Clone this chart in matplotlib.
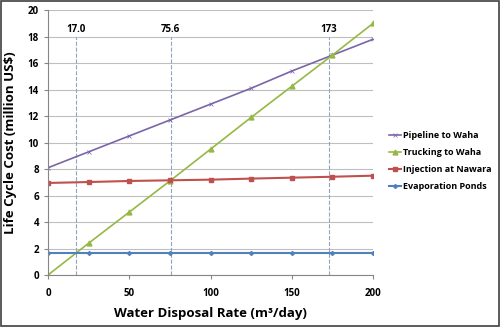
import numpy as np
import matplotlib.pyplot as plt

rate = [0, 25, 50, 75, 100, 125, 150, 175, 200]
pipeline = [8.1, 9.3, 10.5, 11.7, 12.9, 14.1, 15.4, 16.6, 17.8]
trucking = [0.0, 2.4, 4.75, 7.1, 9.5, 11.9, 14.25, 16.6, 19.0]
injection = [6.95, 7.02, 7.1, 7.15, 7.2, 7.28, 7.35, 7.42, 7.5]
evaporation = [1.65] * 9
crossings = [17.0, 75.6, 173]
crossing_labels = ['17.0', '75.6', '173']

plt.rcParams['font.family'] = ['Open Sans', 'DejaVu Sans']

fig = plt.figure(figsize=(5, 3.27), dpi=100)
ax = fig.add_axes([0.096, 0.159, 0.65, 0.81])

for x, lab in zip(crossings, crossing_labels):
    ax.plot([x, x], [0, 18], ls='--', color='#8ea4c0', lw=0.8, zorder=1)
    ax.text(x, 18.15, lab, ha='center', va='bottom', fontsize=7, fontweight='bold')

ax.plot(rate, pipeline, color='#7a65a8', marker='x', ms=2.5, mew=0.5, lw=1.2, label='Pipeline to Waha')
ax.plot(rate, trucking, color='#96b844', marker='^', ms=3.5, lw=1.2, label='Trucking to Waha')
ax.plot(rate, injection, color='#c0504d', marker='s', ms=3.5, lw=1.5, label='Injection at Nawara')
ax.plot(rate, evaporation, color='#4f81bd', marker='D', ms=2, lw=1.5, label='Evaporation Ponds')

ax.set_xlim(0, 200)
ax.set_ylim(0, 20)
ax.set_xticks([0, 50, 100, 150, 200])
ax.set_yticks(np.arange(0, 21, 2))
ax.yaxis.grid(True, color='#bfbfbf', lw=0.8)
ax.set_axisbelow(True)
for s in ['top', 'right']:
    ax.spines[s].set_visible(False)
ax.spines['left'].set_color('#868686')
ax.spines['bottom'].set_color('#868686')
ax.tick_params(axis='both', labelsize=7, length=3, color='#868686')
ax.tick_params(axis='x', pad=6)
for t in ax.get_xticklabels() + ax.get_yticklabels():
    t.set_fontweight('bold')
ax.set_xlabel('Water Disposal Rate (m³/day)', fontsize=9.5, fontweight='bold', labelpad=6)
ax.set_ylabel('Life Cycle Cost (million US$)', fontsize=9.5, fontweight='bold', labelpad=8)

ax.legend(loc='center left', bbox_to_anchor=(1.03, 0.43), frameon=False,
          handlelength=1.3, handletextpad=0.2, labelspacing=0.9, borderpad=0.2,
          prop={'weight': 'bold', 'size': 6.5})

fig.patches.append(plt.Rectangle((0.002, 0.003), 0.996, 0.994, transform=fig.transFigure,
                                 fill=False, ec='#404040', lw=1.2))

fig.savefig('out.png', dpi=100)
